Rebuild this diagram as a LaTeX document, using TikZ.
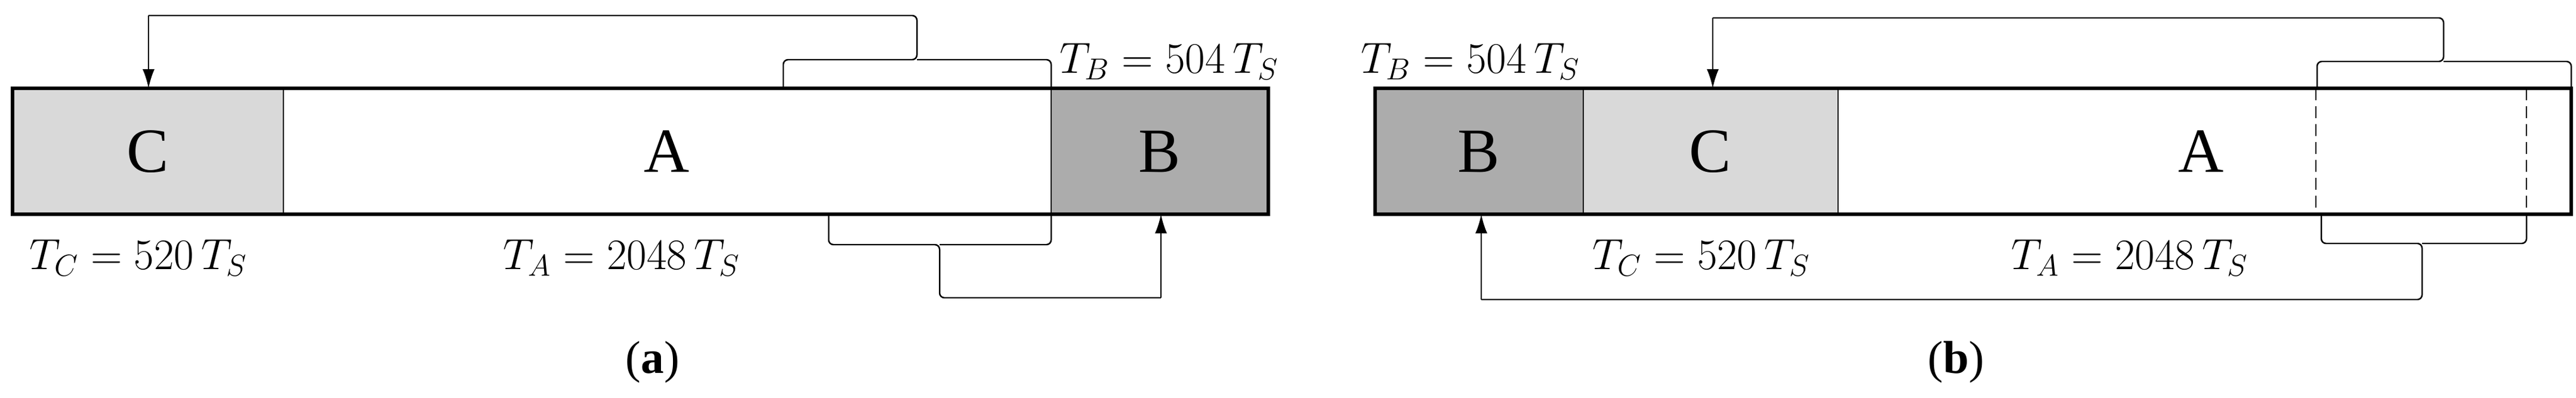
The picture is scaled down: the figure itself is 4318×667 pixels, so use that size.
\documentclass[tikz,border=0pt]{standalone}
\usepackage{fontspec}
\setmainfont{Liberation Serif}
\usetikzlibrary{arrows.meta}
\begin{document}
\begin{tikzpicture}[x=0.01cm,y=-0.01cm,
  thin line/.style={line width=0.7pt},
  bar line/.style={line width=1.6pt},
  arr/.style={thin line,-{Latex[length=0.32cm,width=0.2cm]}},
  brace/.style={thin line,rounded corners=0.08cm},
  big/.style={font=\fontsize{30}{30}\selectfont},
  lab/.style={font=\fontsize{21}{21}\selectfont},
  captext/.style={font=\fontsize{22}{22}\selectfont}]
\useasboundingbox (0,0) rectangle (4318,667);
% ---------- (a)
\fill[gray!30] (21,148) rectangle (475,359);
\fill[gray!65] (1762,148) rectangle (2126,359);
\draw[thin line] (475,148) -- (475,359) (1762,148) -- (1762,359);
\draw[bar line] (21,148) rectangle (2126,359);
\node[big] (aC) at (248,254) {C};
\node[big] (aA) at (1118,254) {A};
\node[big] (aB) at (1944,254) {B};
\coordinate (aCtop) at (249,148);
\coordinate (aBbot) at (1946,359);
\draw[brace] (1313,148) -- (1313,100) -- (1537,100) -- (1537,26) -- (249,26);
\draw[brace] (1537,100) -- (1762,100) -- (1762,148);
\draw[arr] (249,26) -- (aCtop);
\draw[brace] (1389,359) -- (1389,410) -- (1575,410) -- (1575,499) -- (1946,499);
\draw[brace] (1575,410) -- (1762,410) -- (1762,359);
\draw[arr] (1946,499) -- (aBbot);
\node[lab] (aTB) at (1960,103) {$T_B = 504\,T_S$};
\node[lab] (aTC) at (232,432) {$T_C = 520\,T_S$};
\node[lab] (aTA) at (1042,432) {$T_A = 2048\,T_S$};
\node[captext] (capa) at (1094,607) {(\textbf{a})};
% ---------- (b)
\fill[gray!65] (2305,148) rectangle (2654,359);
\fill[gray!30] (2654,148) rectangle (3081,359);
\draw[thin line] (2654,148) -- (2654,359) (3081,148) -- (3081,359);
\draw[thin line,dash pattern=on 0.2cm off 0.1cm] (3882,148) -- (3882,359) (4235,148) -- (4235,359);
\draw[bar line] (2305,148) rectangle (4310,359);
\node[big] (bB) at (2479,254) {B};
\node[big] (bC) at (2867,254) {C};
\node[big] (bA) at (3690,254) {A};
\coordinate (bCtop) at (2871,148);
\coordinate (bBbot) at (2483,359);
\draw[brace] (3884,148) -- (3884,103) -- (4096,103) -- (4096,30) -- (2871,30);
\draw[brace] (4096,103) -- (4310,103) -- (4310,148);
\draw[arr] (2871,30) -- (bCtop);
\draw[brace] (3891,359) -- (3891,408) -- (4060,408) -- (4060,502) -- (2483,502);
\draw[brace] (4060,408) -- (4235,408) -- (4235,359);
\draw[arr] (2483,502) -- (bBbot);
\node[lab] (bTB) at (2465,103) {$T_B = 504\,T_S$};
\node[lab] (bTC) at (2852,432) {$T_C = 520\,T_S$};
\node[lab] (bTA) at (3570,432) {$T_A = 2048\,T_S$};
\node[captext] (capb) at (3279,607) {(\textbf{b})};
\end{tikzpicture}
\end{document}
